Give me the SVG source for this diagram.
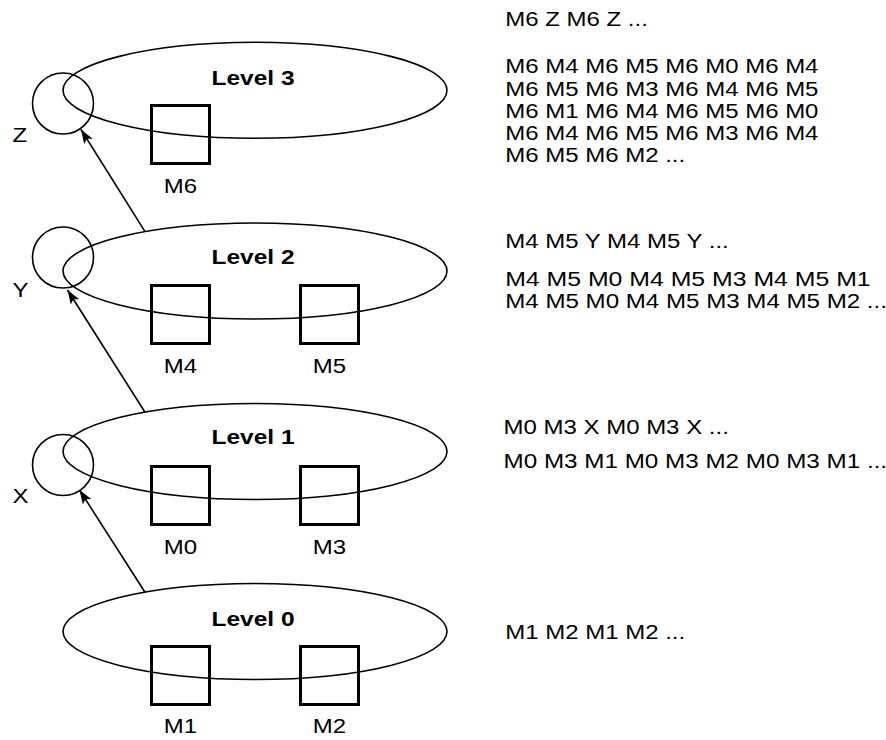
<svg xmlns="http://www.w3.org/2000/svg" width="886" height="740" viewBox="0 0 886 740">
<style>
.ell{fill:none;stroke:#000;stroke-width:1.6}
.cir{fill:none;stroke:#000;stroke-width:1.6}
.box{fill:none;stroke:#000;stroke-width:3}
.lbl{font-family:"Liberation Sans",Arial,sans-serif;font-size:24px;fill:#000}
.lvl{font-family:"Liberation Sans",Arial,sans-serif;font-size:24.5px;font-weight:bold;fill:#000;text-anchor:middle}
.mid{text-anchor:middle}
.seq{font-family:"Liberation Sans",Arial,sans-serif;font-size:24px;fill:#000}
.arr{fill:none;stroke:#000;stroke-width:1.6}
</style>
<defs>
<marker id="ah" markerUnits="userSpaceOnUse" markerWidth="16" markerHeight="12" refX="14" refY="5" orient="auto">
<path d="M0,0 L14,5 L0,10 L3,5 z" fill="#000"/>
</marker>
</defs>
<g id="level3">
<ellipse class="ell" cx="255" cy="90.3" rx="192" ry="48"/>
<text class="lvl" transform="translate(253,85) scale(1,0.86)">Level 3</text>
</g>
<g id="level2">
<ellipse class="ell" cx="255" cy="271" rx="192" ry="48"/>
<text class="lvl" transform="translate(253,264.3) scale(1,0.86)">Level 2</text>
</g>
<g id="level1">
<ellipse class="ell" cx="255" cy="451.5" rx="192" ry="48"/>
<text class="lvl" transform="translate(253,444.3) scale(1,0.86)">Level 1</text>
</g>
<g id="level0">
<ellipse class="ell" cx="255" cy="631.5" rx="192" ry="48"/>
<text class="lvl" transform="translate(253,625.7) scale(1,0.86)">Level 0</text>
</g>
<g id="Z">
<circle class="cir" cx="63" cy="103.5" r="30.5"/>
<text class="lbl" transform="translate(12.5,141.7) scale(1,0.86)">Z</text>
</g>
<g id="Y">
<circle class="cir" cx="63" cy="257.5" r="30.5"/>
<text class="lbl" transform="translate(12.5,296.7) scale(1,0.86)">Y</text>
</g>
<g id="X">
<circle class="cir" cx="63" cy="465" r="30.5"/>
<text class="lbl" transform="translate(12.5,503.3) scale(1,0.86)">X</text>
</g>
<g id="M6">
<rect class="box" x="151.5" y="105.5" width="58" height="58"/>
<text class="lbl mid" transform="translate(180.5,193) scale(1,0.88)">M6</text>
</g>
<g id="M4">
<rect class="box" x="151.5" y="285.5" width="58" height="58"/>
<text class="lbl mid" transform="translate(180.5,372.7) scale(1,0.88)">M4</text>
</g>
<g id="M5">
<rect class="box" x="300.5" y="285.5" width="58" height="58"/>
<text class="lbl mid" transform="translate(329.5,372.7) scale(1,0.88)">M5</text>
</g>
<g id="M0">
<rect class="box" x="151.5" y="466.5" width="58" height="58"/>
<text class="lbl mid" transform="translate(180.5,554) scale(1,0.88)">M0</text>
</g>
<g id="M3">
<rect class="box" x="300.5" y="466.5" width="58" height="58"/>
<text class="lbl mid" transform="translate(329.5,554) scale(1,0.88)">M3</text>
</g>
<g id="M1">
<rect class="box" x="151.5" y="646.5" width="58" height="58"/>
<text class="lbl mid" transform="translate(180.5,733) scale(1,0.88)">M1</text>
</g>
<g id="M2">
<rect class="box" x="300.5" y="646.5" width="58" height="58"/>
<text class="lbl mid" transform="translate(329.5,733) scale(1,0.88)">M2</text>
</g>
<g id="connectors">
<line class="arr" x1="145" y1="592.2" x2="79.5" y2="490" marker-end="url(#ah)"/>
<line class="arr" x1="145" y1="412.2" x2="67.5" y2="290" marker-end="url(#ah)"/>
<line class="arr" x1="145" y1="231.7" x2="81" y2="129.5" marker-end="url(#ah)"/>
</g>
<g id="sequences">
<text class="seq" transform="translate(505.2,26) scale(1,0.82)">M6 Z M6 Z ...</text>
<text class="seq" transform="translate(505.2,73.3) scale(1,0.82)">M6 M4 M6 M5 M6 M0 M6 M4</text>
<text class="seq" transform="translate(505.2,95.7) scale(1,0.82)">M6 M5 M6 M3 M6 M4 M6 M5</text>
<text class="seq" transform="translate(505.2,117.7) scale(1,0.82)">M6 M1 M6 M4 M6 M5 M6 M0</text>
<text class="seq" transform="translate(505.2,140) scale(1,0.82)">M6 M4 M6 M5 M6 M3 M6 M4</text>
<text class="seq" transform="translate(505.2,162) scale(1,0.82)">M6 M5 M6 M2 ...</text>
<text class="seq" transform="translate(505.2,248.3) scale(1,0.82)">M4 M5 Y M4 M5 Y ...</text>
<text class="seq" transform="translate(505.2,286) scale(1.035,0.82)">M4 M5 M0 M4 M5 M3 M4 M5 M1</text>
<text class="seq" transform="translate(505.2,308) scale(1.005,0.82)">M4 M5 M0 M4 M5 M3 M4 M5 M2 ...</text>
<text class="seq" transform="translate(503.5,434) scale(1,0.82)">M0 M3 X M0 M3 X ...</text>
<text class="seq" transform="translate(503.5,468) scale(1.01,0.82)">M0 M3 M1 M0 M3 M2 M0 M3 M1 ...</text>
<text class="seq" transform="translate(505.2,639) scale(1,0.82)">M1 M2 M1 M2 ...</text>
</g>
</svg>
